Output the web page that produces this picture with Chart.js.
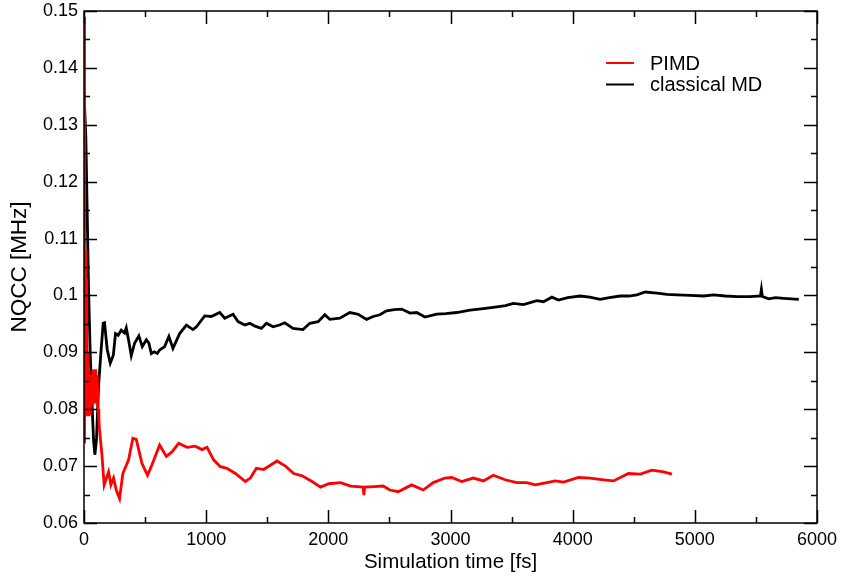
<!DOCTYPE html>
<html>
<head>
<meta charset="utf-8">
<script src="https://cdn.jsdelivr.net/npm/chart.js@4.4.1/dist/chart.umd.min.js"></script>
<style>
  html, body { margin: 0; padding: 0; background: #ffffff; }
  #wrap { width: 842px; height: 579px; position: relative; }
</style>
</head>
<body>
<div id="wrap"><canvas id="c" width="842" height="579"></canvas></div>
<script>
// ---- data ----
const seriesLabels = ["PIMD", "classical MD"];

const pimdTime = [0, 3, 6, 9, 12, 15, 18, 21, 24, 28,
  32, 36, 40, 45, 50, 55, 60, 66, 72, 78,
  84, 90, 96, 102, 108, 115, 122, 127, 146, 165,
  201, 220, 242, 264, 291, 318, 365, 400, 428, 474,
  520, 556, 619, 674, 720, 775, 843, 911, 966, 1007,
  1061, 1116, 1170, 1239, 1321, 1362, 1411, 1471, 1580, 1649,
  1717, 1785, 1867, 1936, 2004, 2100, 2182, 2285, 2291, 2297,
  2373, 2449, 2504, 2572, 2682, 2777, 2859, 2955, 3010, 3092,
  3187, 3269, 3351, 3447, 3543, 3625, 3693, 3789, 3857, 3925,
  4048, 4143, 4252, 4334, 4457, 4553, 4649, 4744, 4813];
const pimdNqcc = [0.149, 0.074, 0.109, 0.079, 0.108, 0.080, 0.103, 0.079, 0.095, 0.080,
  0.090, 0.079, 0.087, 0.080, 0.086, 0.079, 0.085, 0.081, 0.087, 0.082,
  0.086, 0.081, 0.087, 0.083, 0.086, 0.080, 0.078, 0.0764, 0.0722, 0.0667,
  0.0690, 0.0667, 0.0679, 0.0658, 0.0643, 0.0687, 0.0711, 0.0749, 0.0747, 0.0705,
  0.0684, 0.0702, 0.0737, 0.0717, 0.0725, 0.0740, 0.0733, 0.0735, 0.0729, 0.0733,
  0.0711, 0.0699, 0.0696, 0.0687, 0.0673, 0.0679, 0.0696, 0.0694, 0.0709, 0.0700,
  0.0687, 0.0683, 0.0673, 0.0663, 0.0669, 0.0671, 0.0665, 0.0663, 0.0649, 0.0663,
  0.0664, 0.0665, 0.0658, 0.0655, 0.0667, 0.0658, 0.0671, 0.0679, 0.0680, 0.0673,
  0.0679, 0.0674, 0.0684, 0.0676, 0.0671, 0.0671, 0.0667, 0.0671, 0.0674, 0.0672,
  0.0680, 0.0679, 0.0676, 0.0674, 0.0687, 0.0686, 0.0693, 0.0690, 0.0686];

const mdTime = [0, 15, 37, 51, 61, 78, 89, 102, 119, 138,
  157, 168, 190, 215, 240, 258, 280, 305, 332, 346,
  367, 387, 414, 449, 477, 510, 531, 551, 575, 600,
  619, 660, 695, 728, 783, 838, 892, 920, 988, 1042,
  1111, 1152, 1220, 1261, 1316, 1357, 1400, 1452, 1493, 1548,
  1600, 1643, 1711, 1793, 1848, 1916, 1971, 2012, 2094, 2176,
  2244, 2313, 2367, 2422, 2477, 2540, 2600, 2668, 2723, 2791,
  2887, 2960, 3051, 3160, 3269, 3379, 3450, 3515, 3597, 3707,
  3761, 3830, 3884, 3960, 4061, 4140, 4225, 4300, 4389, 4460,
  4526, 4594, 4690, 4772, 4854, 4960, 5072, 5154, 5250, 5346,
  5450, 5537, 5545, 5553, 5605, 5660, 5728, 5790, 5851];
const mdNqcc = [0.1358, 0.1279, 0.1015, 0.0898, 0.0834, 0.0746, 0.0720, 0.0746, 0.0840, 0.0898,
  0.0951, 0.0952, 0.0905, 0.0881, 0.0895, 0.0933, 0.0930, 0.0939, 0.0934, 0.0943,
  0.0919, 0.0894, 0.0916, 0.0929, 0.0910, 0.0922, 0.0916, 0.0898, 0.0901, 0.0898,
  0.0904, 0.0910, 0.0928, 0.0907, 0.0933, 0.0948, 0.0940, 0.0945, 0.0964, 0.0963,
  0.0970, 0.0960, 0.0967, 0.0954, 0.0948, 0.0951, 0.0946, 0.0942, 0.0951, 0.0945,
  0.0948, 0.0952, 0.0942, 0.0940, 0.0951, 0.0954, 0.0966, 0.0958, 0.0960, 0.0970,
  0.0967, 0.0958, 0.0963, 0.0966, 0.0973, 0.0975, 0.0976, 0.0969, 0.0970, 0.0962,
  0.0967, 0.0968, 0.0970, 0.0974, 0.0977, 0.0980, 0.0982, 0.0986, 0.0984, 0.0991,
  0.0989, 0.0997, 0.0992, 0.0996, 0.0999, 0.0997, 0.0993, 0.0996, 0.0999, 0.0999,
  0.1001, 0.1006, 0.1004, 0.1002, 0.1001, 0.1000, 0.0999, 0.1001, 0.0999, 0.0998,
  0.0998, 0.0999, 0.1011, 0.0998, 0.0994, 0.0996, 0.0995, 0.0994, 0.0993];

const xTickValues = [0, 1000, 2000, 3000, 4000, 5000, 6000];
const yTickValues = [0.06, 0.07, 0.08, 0.09, 0.1, 0.11, 0.12, 0.13, 0.14, 0.15];
const xTitle = "Simulation time [fs]";
const yTitle = "NQCC [MHz]";
// ----------------------------------------------

const FONT = "'Liberation Sans', Arial, Helvetica, sans-serif";

function pts(xs, ys) { return xs.map((x, i) => ({ x: x, y: ys[i] })); }

const frameTicks = {
  id: 'frameTicks',
  afterDatasetsDraw(chart) {
    const ctx = chart.ctx, a = chart.chartArea;
    const xs = chart.scales.x, ys = chart.scales.y;
    ctx.save();
    ctx.strokeStyle = '#000';
    ctx.lineWidth = 1.5;
    ctx.strokeRect(a.left, a.top, a.right - a.left, a.bottom - a.top);
    ctx.beginPath();
    for (let i = 0; i <= 12; i++) {
      const v = i * 500;
      const px = Math.round(xs.getPixelForValue(v)) + 0.5;
      const len = (i % 2 === 0) ? 13 : 6;
      ctx.moveTo(px, a.bottom); ctx.lineTo(px, a.bottom - len);
      ctx.moveTo(px, a.top); ctx.lineTo(px, a.top + len);
    }
    for (let i = 0; i <= 18; i++) {
      const v = 0.06 + i * 0.005;
      const py = Math.round(ys.getPixelForValue(v)) + 0.5;
      const len = (i % 2 === 0) ? 13 : 6;
      ctx.moveTo(a.left, py); ctx.lineTo(a.left + len, py);
      ctx.moveTo(a.right, py); ctx.lineTo(a.right - len, py);
    }
    ctx.stroke();

    // legend
    const ds = chart.data.datasets;
    ctx.font = "20px " + FONT;
    ctx.textBaseline = 'middle';
    ctx.textAlign = 'left';
    ds.forEach((d, i) => {
      const y = 63 + i * 21.5;
      ctx.strokeStyle = d.borderColor;
      ctx.lineWidth = 2;
      ctx.beginPath();
      ctx.moveTo(606, y); ctx.lineTo(634, y);
      ctx.stroke();
      ctx.fillStyle = '#000';
      ctx.fillText(d.label, 650, y + 1);
    });
    ctx.restore();
  }
};

new Chart(document.getElementById('c'), {
  type: 'scatter',
  data: {
    datasets: [
      { label: seriesLabels[0], data: pts(pimdTime, pimdNqcc), showLine: true,
        borderColor: '#ff0000', backgroundColor: '#ff0000', borderWidth: 2.8,
        pointRadius: 0, tension: 0 },
      { label: seriesLabels[1], data: pts(mdTime, mdNqcc), showLine: true,
        borderColor: '#000000', backgroundColor: '#000000', borderWidth: 2.8,
        pointRadius: 0, tension: 0 }
    ]
  },
  options: {
    responsive: false,
    animation: false,
    layout: { padding: { top: 11, right: 25, left: 0, bottom: 0 } },
    plugins: { legend: { display: false }, tooltip: { enabled: false } },
    scales: {
      x: {
        type: 'linear', min: 0, max: 6000,
        afterBuildTicks(s) { s.ticks = xTickValues.map(v => ({ value: v })); },
        afterFit(s) { s.height = 56; s.paddingLeft = 0; s.paddingRight = 0; },
        grid: { display: false, drawTicks: false },
        border: { display: false },
        ticks: { color: '#000', padding: 6, maxRotation: 0,
          font: { family: FONT, size: 18 },
          callback: v => String(v) },
        title: { display: true, text: xTitle, color: '#000',
          font: { family: FONT, size: 20.5 }, padding: { top: 0, bottom: 4 } }
      },
      y: {
        type: 'linear', min: 0.06, max: 0.15,
        afterBuildTicks(s) { s.ticks = yTickValues.map(v => ({ value: v })); },
        afterFit(s) { s.width = 84; s.paddingTop = 0; s.paddingBottom = 0; },
        grid: { display: false, drawTicks: false },
        border: { display: false },
        ticks: { color: '#000', padding: 6,
          font: { family: FONT, size: 18 },
          callback: v => String(parseFloat(Number(v).toFixed(3))) },
        title: { display: true, text: yTitle, color: '#000',
          font: { family: FONT, size: 22.5 }, padding: { top: 6, bottom: 0 } }
      }
    }
  },
  plugins: [frameTicks]
});
</script>
</body>
</html>
